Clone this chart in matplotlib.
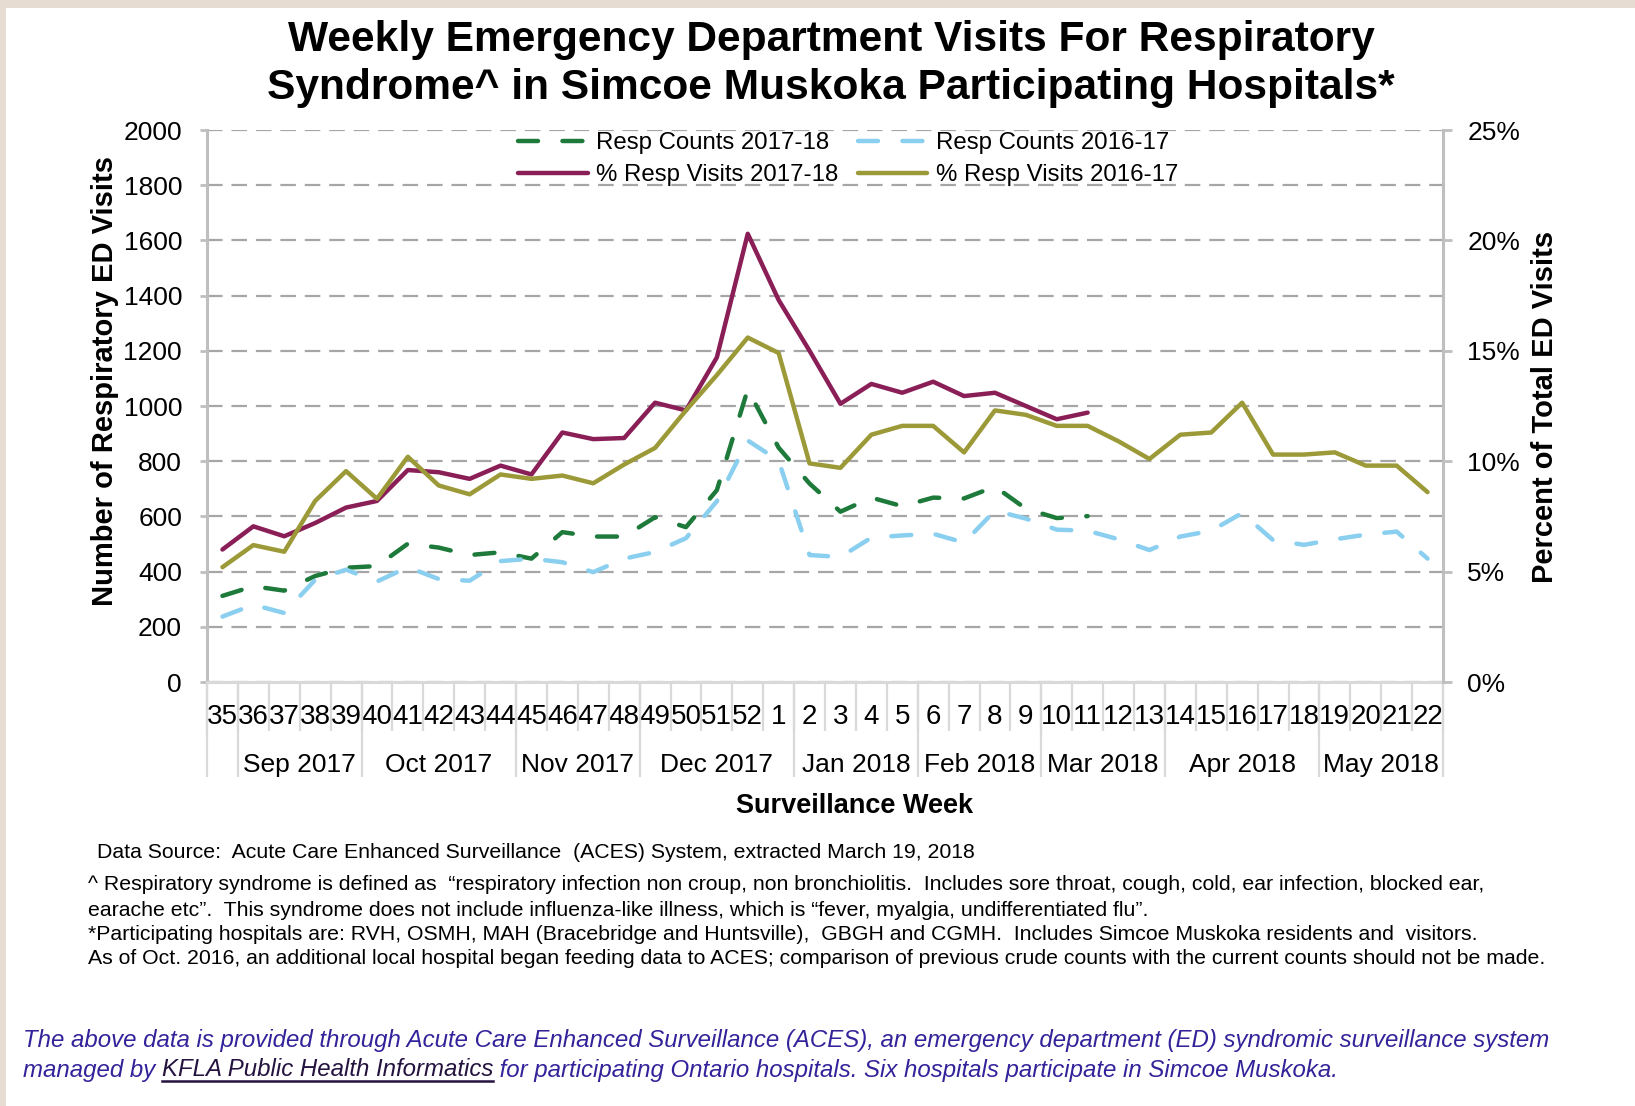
import numpy as np
import matplotlib.pyplot as plt
from matplotlib.patches import Rectangle
from matplotlib.lines import Line2D

plt.rcParams['font.family'] = ['Liberation Sans', 'DejaVu Sans']

# surveillance weeks (2017-35 .. 2018-22)
weeks = list(range(35, 53)) + list(range(1, 23))

# weekly respiratory ED visit counts
counts_1718 = [312, 347, 331, 384, 414, 420, 501, 487, 460, 470, 447, 543, 527, 527,
               597, 561, 695, 1060, 849, 719, 617, 668, 637, 668, 665, 708, 628, 594, 601]
counts_1617 = [237, 280, 250, 370, 407, 364, 416, 373, 367, 438, 447, 434, 398, 447,
               471, 521, 655, 875, 802, 460, 453, 523, 531, 537, 505, 621, 592, 552,
               548, 517, 478, 527, 548, 612, 514, 497, 517, 534, 545, 447]

# percent of total ED visits
pct_1718 = [6.0, 7.05, 6.6, 7.2, 7.9, 8.2, 9.6, 9.5, 9.2, 9.8, 9.4, 11.3, 11.0, 11.05,
            12.65, 12.3, 14.7, 20.3, 17.3, 15.0, 12.6, 13.5, 13.1, 13.6, 12.95, 13.1,
            12.5, 11.9, 12.2]
pct_1617 = [5.2, 6.2, 5.9, 8.2, 9.55, 8.3, 10.2, 8.9, 8.5, 9.4, 9.2, 9.35, 9.0, 9.85,
            10.6, 12.3, 13.9, 15.6, 14.9, 9.9, 9.7, 11.2, 11.6, 11.6, 10.4, 12.3, 12.1,
            11.6, 11.6, 10.9, 10.1, 11.2, 11.3, 12.65, 10.3, 10.3, 10.4, 9.8, 9.8, 8.6]

# month groups on the second axis level
months = ['', 'Sep 2017', 'Oct 2017', 'Nov 2017', 'Dec 2017', 'Jan 2018',
          'Feb 2018', 'Mar 2018', 'Apr 2018', 'May 2018']
month_weeks = [1, 4, 5, 4, 5, 4, 4, 4, 5, 4]

W, H = 1635, 1106
fig = plt.figure(figsize=(W / 100, H / 100), dpi=100)
fig.patch.set_facecolor('#e6dcd1')
fig.add_artist(Rectangle((6 / W, 0), 1, 1 - 8 / H, transform=fig.transFigure,
                         facecolor='white', edgecolor='none', zorder=-10))

ax = fig.add_axes([207 / W, 1 - 682 / H, 1236 / W, 552 / H])
ax.set_facecolor('none')
ax2 = ax.twinx()

x = np.arange(len(weeks))
green, blue, purple, olive = '#1d7a3a', '#8acfef', '#8a1f57', '#9c9a38'

l1, = ax.plot(x[:len(counts_1718)], counts_1718, color=green, lw=3.2,
              dashes=(4.5, 5.5), dash_capstyle='round', label='Resp Counts 2017-18')
l2, = ax.plot(x, counts_1617, color=blue, lw=3.2,
              dashes=(4.5, 5.5), dash_capstyle='round', label='Resp Counts 2016-17')
l3, = ax2.plot(x[:len(pct_1718)], pct_1718, color=purple, lw=3.2,
               solid_capstyle='round', label='% Resp Visits 2017-18')
l4, = ax2.plot(x, pct_1617, color=olive, lw=3.2,
               solid_capstyle='round', label='% Resp Visits 2016-17')

ax.set_xlim(-0.5, len(weeks) - 0.5)
ax.set_ylim(0, 2000)
ax2.set_ylim(0, 25)

ax.set_yticks(range(0, 2001, 200))
ax.yaxis.grid(True, color='#a6a6a6', lw=1.6, linestyle=(0, (7, 4)))
ax.set_axisbelow(True)
ax2.set_yticks(range(0, 26, 5))
ax2.set_yticklabels([f'{v}%' for v in range(0, 26, 5)])

for a in (ax, ax2):
    a.spines['top'].set_visible(False)
ax.spines['right'].set_visible(False)
ax2.spines['left'].set_visible(False)
ax2.spines['bottom'].set_visible(False)
ax.spines['left'].set_color('#bfbfbf')
ax.spines['left'].set_linewidth(2.2)
ax2.spines['right'].set_color('#bfbfbf')
ax2.spines['right'].set_linewidth(2.2)
ax.spines['bottom'].set_color('#d9d9d9')
ax.spines['bottom'].set_linewidth(2.2)

ax.tick_params(axis='y', length=5, width=2, color='#bfbfbf', labelsize=19, pad=13)
ax2.tick_params(axis='y', length=6.5, width=2, color='#bfbfbf', labelsize=19, pad=11)

# multi-level category axis
ax.set_xticks(x)
ax.set_xticklabels([str(w) for w in weeks])
ax.tick_params(axis='x', which='major', length=0, labelsize=20, pad=16)
ax.set_xticks(np.arange(-0.5, len(weeks), 1), minor=True)
ax.tick_params(axis='x', which='minor', length=35, width=1.6, color='#d9d9d9')

bounds = np.concatenate([[0], np.cumsum(month_weeks)]) - 0.5
ax.vlines(bounds, 0, -95 / 552, transform=ax.get_xaxis_transform(), clip_on=False,
          color='#d9d9d9', lw=1.6)
for name, start, n in zip(months, bounds[:-1], month_weeks):
    ax.text(start + n / 2, -83 / 552, name, transform=ax.get_xaxis_transform(),
            ha='center', va='center', fontsize=19)

# titles and axis labels
fig.text(831 / W, 1 - 40 / H, 'Weekly Emergency Department Visits For Respiratory',
         ha='center', va='center', fontsize=30.6, fontweight='bold')
fig.text(831 / W, 1 - 88 / H, 'Syndrome^ in Simcoe Muskoka Participating Hospitals*',
         ha='center', va='center', fontsize=30.6, fontweight='bold')
fig.text(105 / W, 1 - 381 / H, 'Number of Respiratory ED Visits', rotation=90,
         ha='center', va='center', fontsize=21, fontweight='bold')
fig.text(1545 / W, 1 - 407 / H, 'Percent of Total ED Visits', rotation=90,
         ha='center', va='center', fontsize=21, fontweight='bold')
fig.text(855 / W, 1 - 806 / H, 'Surveillance Week', ha='center', va='center',
         fontsize=19.5, fontweight='bold')

fig.legend(handles=[l1, l3, l2, l4], ncol=2, loc='upper left',
           bbox_to_anchor=(518 / W, 1 - 132 / H), frameon=False, fontsize=17.3,
           handlelength=2.9, handletextpad=0.35, columnspacing=0.8,
           borderpad=0, borderaxespad=0, labelspacing=0.42)

# footnotes
notes = [
    (97, 853, 'Data Source:  Acute Care Enhanced Surveillance  (ACES) System, extracted March 19, 2018'),
    (88, 885, '^ Respiratory syndrome is defined as  \u201crespiratory infection non croup, non bronchiolitis.  '
              'Includes sore throat, cough, cold, ear infection, blocked ear,'),
    (88, 910, 'earache etc\u201d.  This syndrome does not include influenza-like illness, which is '
              '\u201cfever, myalgia, undifferentiated flu\u201d.'),
    (88, 934, '*Participating hospitals are: RVH, OSMH, MAH (Bracebridge and Huntsville),  GBGH and CGMH.  '
              'Includes Simcoe Muskoka residents and  visitors.'),
    (88, 958, 'As of Oct. 2016, an additional local hospital began feeding data to ACES; comparison of '
              'previous crude counts with the current counts should not be made.'),
]
for px, py, s in notes:
    fig.text(px / W, 1 - py / H, s, ha='left', va='center', fontsize=15.3)

blue_txt = '#33239a'
fig.text(23 / W, 1 - 1040 / H,
         'The above data is provided through Acute Care Enhanced Surveillance (ACES), an emergency '
         'department (ED) syndromic surveillance system',
         ha='left', va='center', fontsize=17.3, style='italic', color=blue_txt)
t1 = fig.text(23 / W, 1 - 1070 / H, 'managed by ', ha='left', va='center', fontsize=17.3,
              style='italic', color=blue_txt)
renderer = fig.canvas.get_renderer()
bb = t1.get_window_extent(renderer)
t2 = fig.text(bb.x1 / W, 1 - 1070 / H, 'KFLA Public Health Informatics', ha='left',
              va='center', fontsize=17.3, style='italic', color='#24123f')
bb2 = t2.get_window_extent(renderer)
fig.add_artist(Line2D([bb2.x0 / W, bb2.x1 / W], [(bb2.y0 + 1) / H] * 2,
                      transform=fig.transFigure, color='#24123f', lw=1.8))
fig.text(bb2.x1 / W, 1 - 1070 / H,
         ' for participating Ontario hospitals. Six hospitals participate in Simcoe Muskoka.',
         ha='left', va='center', fontsize=17.3, style='italic', color=blue_txt)

fig.savefig('out.png', dpi=100, facecolor=fig.get_facecolor())
